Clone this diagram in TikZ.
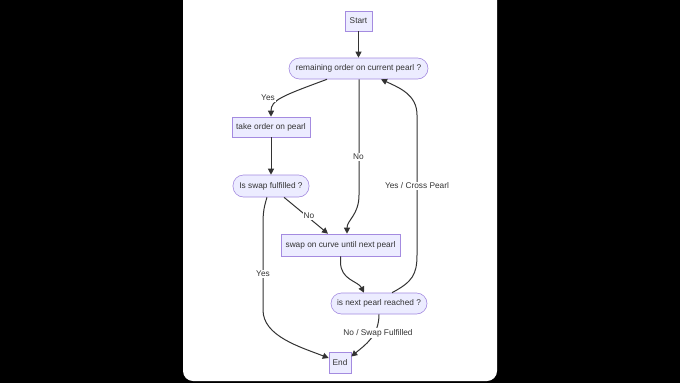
\documentclass[tikz,border=0pt]{standalone}
\usepackage{fontspec}
\setmainfont{Liberation Sans}
\usetikzlibrary{arrows.meta}
\definecolor{nodefill}{HTML}{ECECFF}
\definecolor{nodedraw}{HTML}{A48BE0}
\definecolor{txt}{HTML}{333333}
\tikzset{
  base/.style={draw=nodedraw, fill=nodefill, line width=0.6pt, text=txt, inner sep=0pt, font=\fontsize{8.3}{9}\selectfont},
  boxnode/.style={base, rectangle},
  pillnode/.style={base, rectangle, rounded corners=10.5pt},
  edge/.style={draw=txt, line width=1pt, -{Triangle[length=6pt,width=6pt]}},
  elabel/.style={fill=white, text=txt, inner sep=1pt, font=\fontsize{8.3}{9}\selectfont}
}
\begin{document}
\begin{tikzpicture}[x=1pt,y=-1pt]
\useasboundingbox (0,0) rectangle (680,383);
\fill[black] (0,0) rectangle (680,383);
\fill[white, rounded corners=10pt] (183,-12) rectangle (497,381);

\node[boxnode, minimum width=27pt, minimum height=20pt] (start) at (358.5,21) {Start};
\node[pillnode, minimum width=139pt, minimum height=21pt] (rem) at (358.5,68.5) {remaining order on current pearl ?};
\node[boxnode, minimum width=78pt, minimum height=20pt] (take) at (271,127) {take order on pearl};
\node[pillnode, minimum width=76pt, minimum height=22pt] (isswap) at (271,186) {Is swap fulfilled ?};
\node[boxnode, minimum width=119pt, minimum height=22pt] (swapc) at (340.5,245) {swap on curve until next pearl};
\node[pillnode, minimum width=96pt, minimum height=21pt] (next) at (379,303.5) {is next pearl reached ?};
\node[boxnode, minimum width=22pt, minimum height=21pt] (end) at (340,362.5) {End};

\draw[edge] (start.south) -- (rem.north);
\draw[edge] ([xshift=-31.5pt]rem.south) .. controls (282,96) and (271,100) .. (take.north);
\draw[edge] (take.south) -- (isswap.north);
\draw[edge] ([xshift=0.5pt]rem.south) -- (359,195) .. controls (359,215) and (347,220) .. ([xshift=6.5pt]swapc.north);
\draw[edge] ([xshift=13pt]isswap.south) -- ([xshift=-12.5pt]swapc.north);
\draw[edge] ([xshift=-4pt]isswap.south) .. controls (263,210) and (263,215) .. (263,230) -- (263,310) .. controls (263,336) and (300,347) .. ([yshift=4.5pt]end.west);
\draw[edge] (swapc.south) -- (340.5,262) .. controls (340.5,280) and (358,281) .. ([xshift=-15pt]next.north);
\draw[edge] ([xshift=13pt]next.north) .. controls (412,282) and (417,275) .. (417,255) -- (417,115) .. controls (417,95) and (400,88) .. ([xshift=22.5pt]rem.south);
\draw[edge] (next.south) .. controls (379,336) and (365,345) .. ([yshift=6pt]end.east);

\node[elabel] (lyes1) at (268,98) {Yes};
\node[elabel] (lno1) at (358.5,157) {No};
\node[elabel] (lno2) at (309,216) {No};
\node[elabel] (lyes2) at (263,274) {Yes};
\node[elabel] (lcross) at (417,186) {Yes / Cross Pearl};
\node[elabel] (lswap) at (378,333) {No / Swap Fulfilled};
\end{tikzpicture}
\end{document}
